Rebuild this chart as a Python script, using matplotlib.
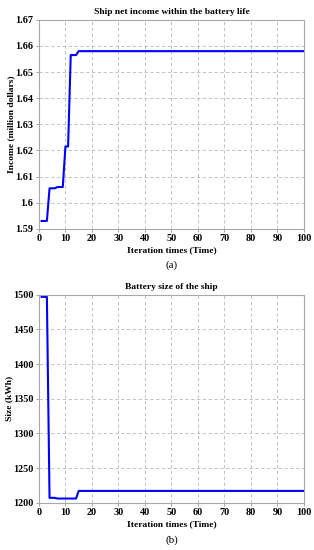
import matplotlib
matplotlib.use("Agg")
import matplotlib.pyplot as plt
from matplotlib.ticker import FuncFormatter

plt.rcParams["font.family"] = ["Liberation Serif", "DejaVu Serif"]

# 迭代断点 (平直段只保留两端)
iter_income = [1, 3, 4, 6, 7, 9, 10, 11, 12, 14, 15, 100]
income = [1.593, 1.593, 1.6055, 1.6055, 1.606, 1.606, 1.6215, 1.6215,
          1.6565, 1.6565, 1.658, 1.658]

iter_size = [1, 3, 4, 6, 7, 14, 15, 100]
size_kwh = [1497, 1497, 1207, 1207, 1206, 1206, 1217, 1217]

x_ticks = list(range(0, 101, 10))
income_ticks = [1.59, 1.60, 1.61, 1.62, 1.63, 1.64, 1.65, 1.66, 1.67]
size_ticks = [1200, 1250, 1300, 1350, 1400, 1450, 1500]

fig = plt.figure(figsize=(3.14, 5.5), dpi=100)
ax1 = fig.add_axes([0.124, 0.584, 0.844, 0.380])
ax2 = fig.add_axes([0.124, 0.086, 0.844, 0.378])


def style(ax):
    ax.set_xlim(0, 100)
    ax.set_xticks(x_ticks)
    ax.grid(True, linestyle=(0, (4, 3)), color="#b8b8b8", linewidth=0.6)
    for s in ax.spines.values():
        s.set_color("#a8a8a8")
        s.set_linewidth(0.8)
    ax.tick_params(length=2, width=0.5, color="#808080", labelsize=7.3, pad=2)
    for lab in ax.get_xticklabels() + ax.get_yticklabels():
        lab.set_fontweight("bold")
    ax.set_xlabel("Iteration times (Time)", fontsize=6.8, fontweight="bold", labelpad=2)


ax1.plot(iter_income, income, color="#0000ff", lw=1.5)
ax1.set_ylim(1.59, 1.67)
ax1.set_yticks(income_ticks)
ax1.yaxis.set_major_formatter(FuncFormatter(lambda v, p: "%g" % round(v, 2)))
ax1.set_ylabel("Income (million dollars)", fontsize=6.8, fontweight="bold", labelpad=0)
ax1.set_title("Ship net income within the battery life", fontsize=6.8, fontweight="bold", pad=4)
style(ax1)

ax2.plot(iter_size, size_kwh, color="#0000ff", lw=1.5)
ax2.set_ylim(1200, 1500)
ax2.set_yticks(size_ticks)
ax2.set_ylabel("Size (kWh)", fontsize=6.8, fontweight="bold", labelpad=0)
ax2.set_title("Battery size of the ship", fontsize=6.8, fontweight="bold", pad=4)
style(ax2)

fig.text(0.546, 1 - 265 / 550, "(a)", ha="center", va="center", fontsize=8)
fig.text(0.546, 1 - 540 / 550, "(b)", ha="center", va="center", fontsize=8)

fig.savefig("out.png", dpi=100)
